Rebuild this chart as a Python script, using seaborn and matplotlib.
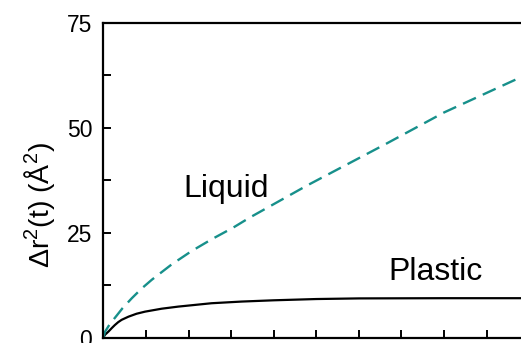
import pandas as pd
import seaborn as sns
import matplotlib.pyplot as plt
from matplotlib.ticker import MultipleLocator

# values
liquid_t = [0, 0.04, 0.15, 0.27, 0.45, 0.67, 0.9, 1.14, 1.6, 2.07, 2.54, 3.05,
            3.44, 4.78, 6.65, 8.0, 9.59, 10.0]
liquid_r2 = [0, 1.4, 3.2, 4.7, 7.0, 9.4, 11.7, 13.8, 17.4, 20.6, 23.4, 26.2,
             28.6, 36.2, 46.2, 53.6, 61.0, 62.9]

plastic_t = [0, 0.04, 0.12, 0.2, 0.27, 0.35, 0.43, 0.59, 0.78, 0.98, 1.37, 1.76,
             2.54, 3.25, 4.0, 5.0, 6.0, 8.0, 10.0]
plastic_r2 = [0, 0.7, 1.45, 2.3, 3.0, 3.7, 4.25, 5.0, 5.7, 6.2, 6.9, 7.4,
              8.2, 8.6, 8.9, 9.2, 9.35, 9.4, 9.4]

y_ticks = [0, 25, 50, 75]

liquid_df = pd.DataFrame({"t": liquid_t, "r2": liquid_r2})
plastic_df = pd.DataFrame({"t": plastic_t, "r2": plastic_r2})

sns.set_style("ticks")
plt.rcParams["font.family"] = ["Liberation Sans", "DejaVu Sans"]
plt.rcParams["mathtext.default"] = "regular"
plt.rcParams["mathtext.fontset"] = "custom"
plt.rcParams["mathtext.rm"] = "Liberation Sans"
plt.rcParams["text.color"] = "black"
plt.rcParams["axes.labelcolor"] = "black"

fig = plt.figure(figsize=(5.21, 3.43), dpi=100)
# axes runs past the right edge of the picture, like the cropped original
ax = fig.add_axes([103.3 / 521, 5.3 / 343, 426 / 521, 315.2 / 343])

sns.lineplot(data=plastic_df, x="t", y="r2", color="black", linewidth=1.6, ax=ax)
sns.lineplot(data=liquid_df, x="t", y="r2", color="#17908b", linewidth=1.7,
             ax=ax, dashes=False)
ax.lines[-1].set_dashes((6, 3.2))
for ln in ax.lines:
    ln.set_solid_joinstyle("round")
    ln.set_dash_joinstyle("round")

ax.set_xlim(0, 10)
ax.set_ylim(0, 75)
ax.set_yticks(y_ticks)
ax.yaxis.set_minor_locator(MultipleLocator(12.5))
ax.xaxis.set_major_locator(MultipleLocator(1))

ax.tick_params(axis="both", which="both", direction="in", width=1.4, length=5.5,
               labelsize=16.5, colors="black", pad=8)
ax.tick_params(axis="x", labelbottom=False)
for side in ["left", "bottom", "top", "right"]:
    ax.spines[side].set_linewidth(1.6)
    ax.spines[side].set_color("black")

ax.set_xlabel("")
ax.set_ylabel("Δr$^2$(t) (Å$^2$)", fontsize=20.5, color="black")
ax.yaxis.set_label_coords((57 - 103.3) / 426, 0.42)

ax.text(183 / 521, (343 - 197) / 343, "Liquid", fontsize=23, color="black",
        transform=fig.transFigure)
ax.text(388 / 521, (343 - 280) / 343, "Plastic", fontsize=23, color="black",
        transform=fig.transFigure)

fig.savefig("out.png", dpi=100)
